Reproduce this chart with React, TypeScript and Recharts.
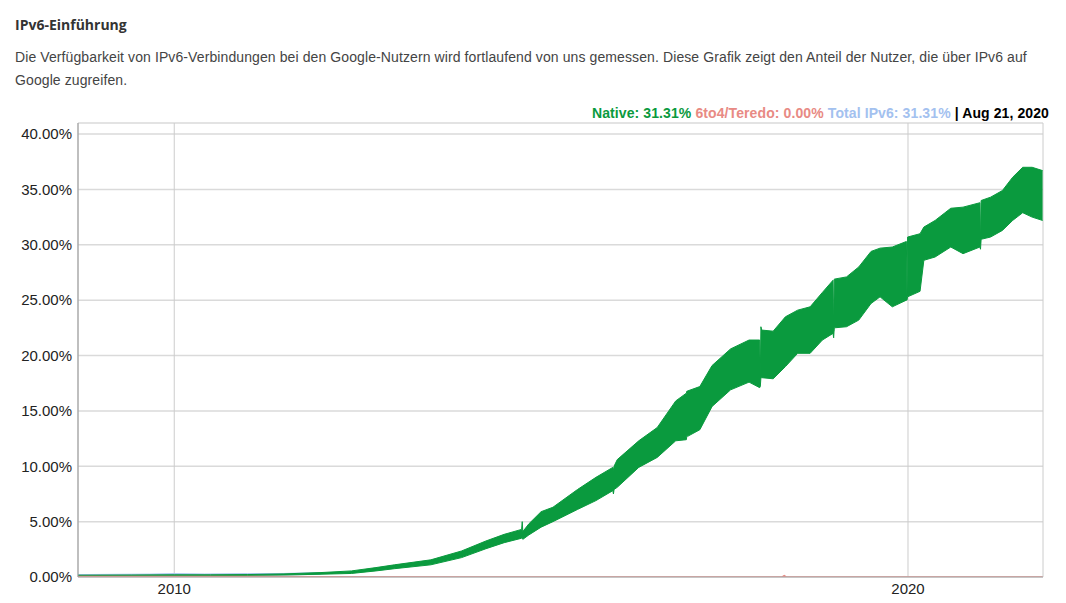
import React from 'react';
import { ComposedChart, Area, Line, XAxis, YAxis, CartesianGrid } from 'recharts';

// Native IPv6 share, daily values shown as a weekly low/high band (percent)
const nativeDates = [
  '2008-09-09', '2009-01-01', '2009-06-01', '2010-01-01', '2010-07-01', '2011-01-01',
  '2011-07-01', '2012-01-01', '2012-06-01', '2012-10-01', '2013-01-01', '2013-07-01',
  '2013-12-01', '2014-04-01', '2014-07-01', '2014-09-26', '2014-09-29', '2014-10-02',
  '2014-11-01', '2015-01-01', '2015-03-01', '2015-07-01', '2015-10-01', '2015-12-24',
  '2015-12-27', '2015-12-30', '2016-01-15', '2016-05-01', '2016-08-01', '2016-11-01', '2016-12-24',
  '2016-12-27', '2016-12-30', '2017-03-01', '2017-05-01', '2017-08-01', '2017-11-01', '2017-12-24',
  '2017-12-27', '2017-12-30', '2018-01-03', '2018-03-01', '2018-05-01', '2018-07-01', '2018-09-01',
  '2018-11-01', '2018-12-24', '2018-12-27', '2018-12-30', '2019-03-01', '2019-05-01',
  '2019-07-01', '2019-08-15', '2019-10-15', '2019-12-24', '2019-12-27', '2019-12-30',
  '2020-03-01', '2020-03-20', '2020-05-15', '2020-08-01', '2020-10-01', '2020-12-24',
  '2020-12-27', '2020-12-30', '2021-02-15', '2021-04-15', '2021-06-05', '2021-07-25',
  '2021-09-10', '2021-11-01',
];
const nativeLow = [
  0.1, 0.1, 0.11, 0.12, 0.13, 0.14,
  0.18, 0.25, 0.32, 0.55, 0.75, 1.1,
  1.75, 2.55, 3.1, 3.5, 3.6, 3.4,
  3.8, 4.5, 5.0, 6.1, 6.9, 7.8,
  7.5, 7.9, 8.1, 9.9, 10.8, 12.3, 12.4,
  12.8, 12.7, 13.3, 15.4, 16.9, 17.6, 17.1,
  17.2, 18.0, 18.0, 17.9, 19.0, 20.2, 20.2,
  21.4, 22.0, 21.6, 22.5, 22.6, 23.2,
  24.7, 25.3, 24.4, 25.0, 25.0, 25.3,
  25.8, 28.6, 28.9, 29.8, 29.2, 29.8,
  29.6, 30.5, 30.7, 31.3, 32.2, 32.9,
  32.5, 32.2,
];
const nativeHigh = [
  0.16, 0.17, 0.18, 0.2, 0.2, 0.22,
  0.28, 0.4, 0.55, 0.85, 1.1, 1.55,
  2.35, 3.25, 3.85, 4.3, 5.0, 4.1,
  4.8, 5.9, 6.3, 7.9, 9.0, 9.9,
  9.6, 10.0, 10.6, 12.3, 13.5, 15.9, 16.6,
  16.8, 16.8, 17.2, 19.1, 20.6, 21.4, 21.4,
  18.0, 22.6, 22.3, 22.2, 23.5, 24.1, 24.4,
  25.7, 26.8, 22.2, 26.9, 27.1, 28.0,
  29.4, 29.7, 29.8, 30.3, 25.4, 30.7,
  31.0, 31.6, 32.2, 33.3, 33.4, 33.8,
  30.1, 34.0, 34.3, 34.9, 36.1, 37.0,
  37.0, 36.7,
];

// Total IPv6 only shows above native in the early years
const totalDates = ['2008-09-09', '2009-03-01', '2009-09-01', '2010-01-01', '2010-06-01', '2011-01-01', '2011-07-01', '2012-01-01'];
const totalLow = [0.1, 0.1, 0.11, 0.12, 0.13, 0.14, 0.18, 0.25];
const totalHigh = [0.22, 0.24, 0.26, 0.3, 0.27, 0.3, 0.32, 0.4];

// 6to4/Teredo share
const teredoDates = ['2008-09-09', '2010-01-01', '2012-01-01', '2014-01-01', '2017-01-01', '2018-04-15', '2018-04-25', '2018-05-05', '2021-11-01'];
const teredoValues = [0.04, 0.05, 0.03, 0.01, 0.01, 0.01, 0.12, 0.01, 0.0];

const yTicks = [0, 5, 10, 15, 20, 25, 30, 35, 40];
const xTickDates = ['2010-01-01', '2020-01-01'];
const xDomainDates = ['2008-09-09', '2021-11-03'];

const GREEN = '#0a9a3e';
const RED = '#e88a84';
const BLUE = '#a3c1ef';
const AXIS_FONT = 'Arial, "Liberation Sans", sans-serif';

const toTime = (d: string) => Date.parse(d);

const nativeData = nativeDates.map((d, i) => ({ t: toTime(d), native: [nativeLow[i], nativeHigh[i]] }));
const totalData = totalDates.map((d, i) => ({ t: toTime(d), total: [totalLow[i], totalHigh[i]] }));
const teredoData = teredoDates.map((d, i) => ({ t: toTime(d), teredo: teredoValues[i] }));

export default function App() {
  return (
    <div style={{ position: 'absolute', left: 0, top: 0, width: 1066, height: 603, background: '#fff', fontFamily: AXIS_FONT }}>
      <div style={{ position: 'absolute', left: 15, top: 15, fontFamily: '"Open Sans", sans-serif', fontWeight: 700, fontSize: 14, lineHeight: '20px', color: '#333' }}>
        IPv6-Einführung
      </div>
      <div style={{ position: 'absolute', left: 15, top: 46, width: 1040, fontSize: 14, letterSpacing: 0.1, lineHeight: '23px', color: '#444' }}>
        Die Verfügbarkeit von IPv6-Verbindungen bei den Google-Nutzern wird fortlaufend von uns gemessen. Diese Grafik zeigt den Anteil der Nutzer, die über IPv6 auf Google zugreifen.
      </div>
      <div style={{ position: 'absolute', right: 17, top: 104, fontSize: 14, letterSpacing: 0.1, fontWeight: 700, lineHeight: '18px', whiteSpace: 'nowrap' }}>
        <span style={{ color: GREEN }}>Native: 31.31%</span>{' '}
        <span style={{ color: RED }}>6to4/Teredo: 0.00%</span>{' '}
        <span style={{ color: BLUE }}>Total IPv6: 31.31%</span>{' '}
        <span style={{ color: '#000' }}>| Aug 21, 2020</span>
      </div>
      <div style={{ position: 'absolute', left: 0, top: 100 }}>
        <ComposedChart width={1066} height={503} margin={{ top: 23, right: 23, left: 0, bottom: 0 }}>
          <CartesianGrid vertical={false} stroke="#dadada" strokeWidth={1.5} />
          <CartesianGrid horizontal={false} stroke="#cccccc" />
          <XAxis
            dataKey="t"
            type="number"
            scale="time"
            domain={xDomainDates.map(toTime)}
            ticks={xTickDates.map(toTime)}
            tickFormatter={(v: number) => String(new Date(v).getUTCFullYear())}
            allowDataOverflow
            height={26}
            tickLine={false}
            tickSize={4}
            axisLine={{ stroke: '#aaaaaa' }}
            tick={{ fill: '#222', fontSize: 15, fontFamily: AXIS_FONT }}
          />
          <YAxis
            type="number"
            domain={[0, 41]}
            ticks={yTicks}
            tickFormatter={(v: number) => `${v.toFixed(2)}%`}
            allowDataOverflow
            width={78}
            tickLine={false}
            tickSize={4}
            axisLine={{ stroke: '#999999' }}
            tick={{ fill: '#222', fontSize: 15, fontFamily: AXIS_FONT }}
          />
          <Area data={totalData} dataKey="total" type="linear" stroke={BLUE} strokeWidth={1} fill={BLUE} fillOpacity={1} isAnimationActive={false} dot={false} activeDot={false} />
          <Area data={nativeData} dataKey="native" type="linear" stroke={GREEN} strokeWidth={1} fill={GREEN} fillOpacity={1} isAnimationActive={false} dot={false} activeDot={false} />
          <Line data={teredoData} dataKey="teredo" type="linear" stroke={RED} strokeWidth={1.5} isAnimationActive={false} dot={false} activeDot={false} />
        </ComposedChart>
      </div>
    </div>
  );
}
